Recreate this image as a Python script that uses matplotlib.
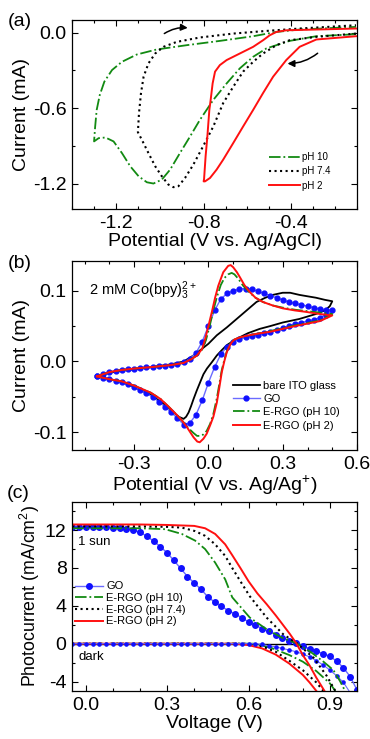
import numpy as np
import matplotlib
matplotlib.use('Agg')
import matplotlib.pyplot as plt
from matplotlib.ticker import MultipleLocator

plt.rcParams['font.family'] = ['Liberation Sans', 'DejaVu Sans']
plt.rcParams['axes.unicode_minus'] = False
plt.rcParams['mathtext.fontset'] = 'custom'
plt.rcParams['mathtext.rm'] = 'Liberation Sans'
plt.rcParams['mathtext.it'] = 'Liberation Sans:italic'

# ---- (a) CV in different pH (loop: cathodic scan then return) ----
ph10_x = [-0.105, -0.286, -0.408, -0.514, -0.574, -0.635, -0.695, -0.756, -0.817, -0.862, -0.908,
          -0.953, -0.991, -1.029, -1.059, -1.097, -1.135, -1.173, -1.211, -1.248, -1.279, -1.3,
          -1.295, -1.288, -1.274, -1.253, -1.218, -1.173, -1.105, -1.014, -0.877, -0.726, -0.574,
          -0.468, -0.362, -0.105]
ph10_y = [-0.013, -0.029, -0.066, -0.126, -0.192, -0.284, -0.403, -0.534, -0.692, -0.824, -0.955,
          -1.087, -1.166, -1.197, -1.187, -1.139, -1.06, -0.955, -0.863, -0.832, -0.837, -0.863,
          -0.745, -0.613, -0.495, -0.389, -0.297, -0.232, -0.174, -0.134, -0.1, -0.066, -0.029,
          0.005, 0.024, 0.045]

ph74_x = [-0.105, -0.286, -0.408, -0.468, -0.529, -0.574, -0.62, -0.665, -0.711, -0.756, -0.802,
          -0.847, -0.885, -0.915, -0.938, -0.961, -0.991, -1.021, -1.052, -1.082, -1.1,
          -1.095, -1.086, -1.074, -1.052, -1.021, -0.983, -0.923, -0.817, -0.665, -0.514, -0.362, -0.105]
ph74_y = [-0.008, -0.034, -0.061, -0.1, -0.166, -0.232, -0.31, -0.43, -0.56, -0.745, -0.9,
          -1.047, -1.153, -1.218, -1.226, -1.205, -1.139, -1.06, -0.955, -0.85, -0.79,
          -0.64, -0.482, -0.35, -0.245, -0.166, -0.113, -0.074, -0.039, -0.008, 0.013, 0.032, 0.058]

ph2_x = [-0.105, -0.286, -0.362, -0.423, -0.483, -0.529, -0.574, -0.62, -0.665, -0.711, -0.741,
         -0.771, -0.794, -0.8, -0.798, -0.791, -0.783, -0.774, -0.768, -0.759, -0.748, -0.726,
         -0.695, -0.635, -0.574, -0.529, -0.498, -0.468, -0.423, -0.105]
ph2_y = [-0.029, -0.055, -0.113, -0.218, -0.35, -0.48, -0.613, -0.745, -0.876, -1.008, -1.087,
         -1.153, -1.18, -1.18, -1.16, -0.98, -0.824, -0.613, -0.534, -0.403, -0.31, -0.258,
         -0.218, -0.166, -0.113, -0.061, -0.021, 0.005, 0.018, 0.032]

# ---- (b) CV of Co(bpy)3 on different electrodes ----
ito_x = [-0.45, -0.4, -0.35, -0.3, -0.233, -0.15, -0.1, -0.06, 0.0, 0.034, 0.074, 0.114, 0.154,
         0.194, 0.23, 0.26, 0.3, 0.33, 0.367, 0.4, 0.434, 0.47, 0.5,
         0.49, 0.47, 0.434, 0.367, 0.3, 0.25, 0.207, 0.16, 0.114, 0.074, 0.054, 0.034, 0.014,
         -0.006, -0.02, -0.033, -0.047, -0.06, -0.07, -0.08, -0.09, -0.1, -0.12, -0.14, -0.167,
         -0.2, -0.233, -0.3, -0.35, -0.4, -0.45]
ito_y = [-0.021, -0.016, -0.013, -0.011, -0.008, -0.004, 0.0, 0.0085, 0.025, 0.037, 0.048, 0.06,
         0.072, 0.084, 0.09, 0.094, 0.097, 0.097, 0.094, 0.092, 0.09, 0.087, 0.085,
         0.078, 0.072, 0.067, 0.06, 0.055, 0.05, 0.046, 0.04, 0.032, 0.023, 0.016, 0.0085, -0.001,
         -0.01, -0.018, -0.029, -0.041, -0.053, -0.063, -0.072, -0.078, -0.081, -0.078, -0.072,
         -0.063, -0.055, -0.047, -0.036, -0.029, -0.025, -0.021]

go_cv_x = [-0.45, -0.425, -0.4, -0.375, -0.35, -0.325, -0.3, -0.275, -0.25, -0.225, -0.2, -0.175,
           -0.15, -0.125, -0.1, -0.075, -0.05, -0.025, 0.0, 0.025, 0.05, 0.075, 0.1, 0.125, 0.15,
           0.175, 0.2, 0.225, 0.25, 0.275, 0.3, 0.325, 0.35, 0.375, 0.4, 0.425, 0.45, 0.475, 0.5,
           0.475, 0.45, 0.425, 0.4, 0.375, 0.35, 0.325, 0.3, 0.275, 0.25, 0.225, 0.2, 0.175, 0.15,
           0.125, 0.1, 0.075, 0.05, 0.025, 0.0, -0.025, -0.05, -0.075, -0.1, -0.125, -0.15, -0.175,
           -0.2, -0.225, -0.25, -0.275, -0.3, -0.325, -0.35, -0.375, -0.4, -0.425, -0.45]
go_cv_y = [-0.021, -0.018, -0.015, -0.013, -0.012, -0.011, -0.01, -0.009, -0.008, -0.0075, -0.007,
           -0.006, -0.005, -0.003, -0.001, 0.004, 0.012, 0.028, 0.05, 0.072, 0.088, 0.096, 0.1,
           0.102, 0.103, 0.102, 0.099, 0.096, 0.093, 0.09, 0.087, 0.084, 0.082, 0.08, 0.078, 0.076,
           0.074, 0.073, 0.072,
           0.066, 0.062, 0.059, 0.057, 0.055, 0.053, 0.05, 0.047, 0.045, 0.042, 0.04, 0.038, 0.036,
           0.034, 0.032, 0.028, 0.021, 0.01, -0.008, -0.03, -0.055, -0.075, -0.087, -0.089, -0.08,
           -0.072, -0.064, -0.057, -0.05, -0.045, -0.04, -0.036, -0.032, -0.029, -0.027, -0.025,
           -0.023, -0.021]

rgo10_cv_x = [-0.45, -0.4, -0.35, -0.3, -0.233, -0.15, -0.1, -0.07, -0.046, -0.025, -0.01, 0.005,
              0.02, 0.035, 0.05, 0.065, 0.08, 0.094, 0.105, 0.12, 0.14, 0.167, 0.19, 0.22, 0.26,
              0.3, 0.35, 0.4, 0.45, 0.5,
              0.45, 0.394, 0.35, 0.3, 0.25, 0.194, 0.15, 0.127, 0.105, 0.094, 0.084, 0.074, 0.064,
              0.054, 0.044, 0.034, 0.02, 0.007, -0.007, -0.02, -0.035, -0.046, -0.06, -0.075,
              -0.086, -0.105, -0.126, -0.16, -0.193, -0.233, -0.3, -0.35, -0.4, -0.45]
rgo10_cv_y = [-0.021, -0.015, -0.012, -0.01, -0.008, -0.005, -0.002, 0.003, 0.0085, 0.017, 0.03,
              0.05, 0.072, 0.092, 0.108, 0.118, 0.123, 0.125, 0.123, 0.117, 0.107, 0.097, 0.09,
              0.084, 0.079, 0.076, 0.073, 0.071, 0.069, 0.067,
              0.058, 0.054, 0.051, 0.047, 0.043, 0.039, 0.036, 0.034, 0.031, 0.028, 0.022, 0.014,
              0.002, -0.012, -0.032, -0.052, -0.074, -0.088, -0.098, -0.103, -0.105, -0.105,
              -0.101, -0.096, -0.092, -0.084, -0.076, -0.064, -0.053, -0.044, -0.034, -0.028,
              -0.025, -0.021]

rgo2_cv_x = [-0.45, -0.4, -0.35, -0.3, -0.233, -0.15, -0.1, -0.07, -0.046, -0.025, -0.013, 0.0,
             0.014, 0.027, 0.04, 0.06, 0.08, 0.09, 0.1, 0.115, 0.127, 0.145, 0.167, 0.19, 0.22,
             0.26, 0.3, 0.35, 0.394, 0.45, 0.5,
             0.45, 0.394, 0.35, 0.3, 0.25, 0.194, 0.15, 0.127, 0.105, 0.094, 0.084, 0.074, 0.064,
             0.054, 0.044, 0.034, 0.02, 0.007, -0.007, -0.02, -0.035, -0.045, -0.06, -0.075,
             -0.086, -0.105, -0.126, -0.16, -0.193, -0.233, -0.3, -0.35, -0.4, -0.45]
rgo2_cv_y = [-0.021, -0.015, -0.012, -0.01, -0.008, -0.005, -0.002, 0.003, 0.0085, 0.018, 0.032,
             0.05, 0.07, 0.09, 0.107, 0.126, 0.135, 0.136, 0.133, 0.126, 0.119, 0.108, 0.098,
             0.09, 0.084, 0.079, 0.075, 0.072, 0.07, 0.067, 0.065,
             0.057, 0.053, 0.05, 0.046, 0.042, 0.039, 0.036, 0.034, 0.031, 0.027, 0.021, 0.013,
             0.0, -0.015, -0.037, -0.058, -0.078, -0.09, -0.102, -0.109, -0.114, -0.113, -0.107,
             -0.099, -0.093, -0.084, -0.076, -0.064, -0.053, -0.044, -0.034, -0.028, -0.025, -0.021]

# ---- (c) J-V curves, 1 sun and dark ----
go_v = [-0.05, -0.025, 0.0, 0.025, 0.05, 0.075, 0.1, 0.125, 0.15, 0.175, 0.2, 0.225, 0.25, 0.275,
        0.3, 0.325, 0.35, 0.375, 0.4, 0.425, 0.45, 0.475, 0.5, 0.525, 0.55, 0.575, 0.6, 0.625,
        0.65, 0.675, 0.7, 0.725, 0.75, 0.775, 0.8, 0.825, 0.85, 0.875, 0.9, 0.925, 0.95, 0.975, 1.0]
go_light = [12.3, 12.3, 12.3, 12.3, 12.3, 12.3, 12.25, 12.2, 12.1, 12.0, 11.8, 11.35, 10.85, 10.25,
            9.6, 8.8, 7.95, 7.1, 6.4, 5.75, 4.95, 4.4, 3.95, 3.5, 3.15, 2.75, 2.3, 1.95, 1.6, 1.3,
            0.95, 0.62, 0.33, 0.05, -0.25, -0.55, -0.8, -1.05, -1.35, -1.85, -2.55, -3.5, -4.9]
go_dark = [0, 0, 0, 0, 0, 0, 0, 0, 0, 0, 0, 0, 0, 0, 0, 0, 0, 0, 0, 0, 0, 0, 0, 0, 0, 0, 0, 0,
           -0.08, -0.22, -0.35, -0.5, -0.67, -0.85, -1.1, -1.4, -1.8, -2.25, -2.8, -3.4, -4.1,
           -5.2, -6.5]

rgo10_v = [-0.05, 0.1, 0.2, 0.25, 0.293, 0.354, 0.403, 0.44, 0.477, 0.514, 0.54, 0.605, 0.667,
           0.728, 0.78, 0.83, 0.876, 0.913, 0.937, 0.956]
rgo10_light = [12.2, 12.2, 12.2, 12.15, 12.1, 11.6, 10.9, 10.0, 8.57, 6.8, 4.9, 2.75, 1.52, 0.57,
               0.0, -0.9, -1.9, -2.8, -3.95, -5.0]
rgo10_dark_v = [-0.05, 0.62, 0.68, 0.75, 0.8, 0.85, 0.9, 0.92]
rgo10_dark = [0, 0, -0.4, -1.2, -1.9, -2.9, -4.2, -5.0]

rgo74_v = [-0.05, 0.1, 0.2, 0.3, 0.354, 0.403, 0.44, 0.477, 0.514, 0.54, 0.57, 0.605, 0.667, 0.728,
           0.78, 0.84, 0.888, 0.92]
rgo74_light = [12.4, 12.4, 12.4, 12.35, 12.27, 11.9, 11.4, 10.5, 9.28, 8.0, 6.6, 5.0, 2.75, 0.99,
               0.0, -1.5, -3.4, -5.0]
rgo74_dark_v = [-0.05, 0.6, 0.65, 0.7, 0.75, 0.8, 0.85, 0.876]
rgo74_dark = [0, 0, -0.3, -0.85, -1.8, -2.8, -4.1, -5.0]

rgo2_v = [-0.05, 0.0, 0.1, 0.2, 0.3, 0.35, 0.4, 0.44, 0.477, 0.514, 0.539, 0.57, 0.6, 0.633, 0.667,
          0.7, 0.716, 0.753, 0.777, 0.8, 0.825, 0.85, 0.88]
rgo2_light = [12.6, 12.6, 12.6, 12.6, 12.55, 12.5, 12.45, 12.2, 11.6, 10.5, 9.4, 8.0, 6.6, 5.3,
              4.17, 3.0, 2.4, 1.0, 0.0, -1.2, -2.3, -3.6, -5.0]
rgo2_dark_v = [-0.05, 0.55, 0.6, 0.65, 0.7, 0.75, 0.8, 0.825, 0.85]
rgo2_dark = [0, 0, -0.15, -0.5, -1.15, -2.1, -3.3, -4.1, -5.0]

GREEN = '#128a12'
BLUE = '#1010ff'
BLUE_LINE = '#6b6bff'
RED = '#ff1010'

fig = plt.figure(figsize=(3.7, 7.39), dpi=100)


def style_axes(ax, xmaj, xmin, ymaj, ymin):
    ax.xaxis.set_major_locator(MultipleLocator(xmaj))
    ax.xaxis.set_minor_locator(MultipleLocator(xmin))
    ax.yaxis.set_major_locator(MultipleLocator(ymaj))
    ax.yaxis.set_minor_locator(MultipleLocator(ymin))
    ax.tick_params(which='both', direction='in', top=True, right=True, labelsize=14, width=0.8)
    ax.tick_params(which='major', length=4, pad=4)
    ax.tick_params(which='minor', length=2.5)
    for s in ax.spines.values():
        s.set_linewidth(0.9)


arrow = dict(arrowstyle='-|>', color='black', lw=1.1, mutation_scale=10,
             connectionstyle='arc3,rad=-0.2')

# panel (a)
ax1 = fig.add_axes([0.195, 0.717, 0.770, 0.256])
ax1.plot(ph10_x, ph10_y, color=GREEN, ls='-.', lw=1.3, label='pH 10')
ax1.plot(ph74_x, ph74_y, color='black', ls=':', lw=1.5, label='pH 7.4')
ax1.plot(ph2_x, ph2_y, color=RED, ls='-', lw=1.4, label='pH 2')
ax1.set_xlim(-1.4, -0.1)
ax1.set_ylim(-1.4, 0.1)
style_axes(ax1, 0.4, 0.1, 0.6, 0.3)
ax1.set_xlabel('Potential (V vs. Ag/AgCl)', fontsize=14, labelpad=1)
ax1.set_ylabel('Current (mA)', fontsize=14, labelpad=2)
ax1.legend(loc='center left', bbox_to_anchor=(0.69, 0.2), frameon=False, fontsize=7,
           handlelength=3.2, handletextpad=0.2, labelspacing=0.45, borderaxespad=0, borderpad=0)
# scan direction arrows
ax1.annotate('', xy=(-0.86, 0.035), xytext=(-0.99, -0.02), arrowprops=arrow)
ax1.annotate('', xy=(-0.43, -0.245), xytext=(-0.27, -0.15), arrowprops=arrow)

# panel (b)
ax2 = fig.add_axes([0.195, 0.391, 0.770, 0.256])
ax2.plot(ito_x, ito_y, color='black', lw=1.3, label='bare ITO glass')
ax2.plot(go_cv_x, go_cv_y, color=BLUE_LINE, lw=1.0, marker='o', ms=3.5, mfc=BLUE, mec=BLUE,
         label='GO')
ax2.plot(rgo10_cv_x, rgo10_cv_y, color=GREEN, ls='-.', lw=1.3, label='E-RGO (pH 10)')
ax2.plot(rgo2_cv_x, rgo2_cv_y, color=RED, lw=1.4, label='E-RGO (pH 2)')
ax2.set_xlim(-0.55, 0.6)
ax2.set_ylim(-0.125, 0.142)
style_axes(ax2, 0.3, 0.1, 0.1, 0.05)
ax2.set_xlabel('Potential (V vs. Ag/Ag$^{+}$)', fontsize=14, labelpad=1)
ax2.set_ylabel('Current (mA)', fontsize=14, labelpad=2)
ax2.text(-0.48, 0.1, r'2 mM Co(bpy)$_3^{2+}$', fontsize=10.5, va='center', ha='left')
ax2.legend(loc='center left', bbox_to_anchor=(0.565, 0.235), frameon=False, fontsize=8,
           handlelength=2.4, handletextpad=0.3, labelspacing=0.3, borderaxespad=0, borderpad=0,
           numpoints=1)

# panel (c)
ax3 = fig.add_axes([0.195, 0.065, 0.770, 0.256])
ax3.axhline(0, color='black', lw=1.0)
ax3.plot(rgo10_dark_v, rgo10_dark, color=GREEN, ls='-.', lw=1.3)
ax3.plot(rgo74_dark_v, rgo74_dark, color='black', ls=':', lw=1.5)
ax3.plot(rgo2_dark_v, rgo2_dark, color=RED, lw=1.4)
ax3.plot(go_v, go_dark, color=BLUE_LINE, lw=0.8, marker='o', ms=2.3, mfc=BLUE, mec=BLUE)
ax3.plot(go_v, go_light, color=BLUE_LINE, lw=1.0, marker='o', ms=4, mfc=BLUE, mec=BLUE,
         label='GO')
ax3.plot(rgo10_v, rgo10_light, color=GREEN, ls='-.', lw=1.3, label='E-RGO (pH 10)')
ax3.plot(rgo74_v, rgo74_light, color='black', ls=':', lw=1.5, label='E-RGO (pH 7.4)')
ax3.plot(rgo2_v, rgo2_light, color=RED, lw=1.4, label='E-RGO (pH 2)')
ax3.set_xlim(-0.05, 1.0)
ax3.set_ylim(-5, 15)
style_axes(ax3, 0.3, 0.1, 4, 2)
ax3.set_xlabel('Voltage (V)', fontsize=14, labelpad=1)
ax3.set_ylabel('Photocurrent (mA/cm$^2$)', fontsize=12.8, labelpad=2)
ax3.text(-0.027, 10.8, '1 sun', fontsize=9.5, va='center', ha='left')
ax3.text(-0.025, -1.4, 'dark', fontsize=9.5, va='center', ha='left')
ax3.legend(loc='center left', bbox_to_anchor=(0.01, 0.46), frameon=False, fontsize=8,
           handlelength=2.5, handletextpad=0.3, labelspacing=0.15, borderaxespad=0, borderpad=0,
           numpoints=1)

# panel letters
fig.text(0.022, 0.982, '(a)', fontsize=14, va='top')
fig.text(0.022, 0.655, '(b)', fontsize=14, va='top')
fig.text(0.018, 0.344, '(c)', fontsize=14, va='top')

fig.savefig('out.png', dpi=100)
